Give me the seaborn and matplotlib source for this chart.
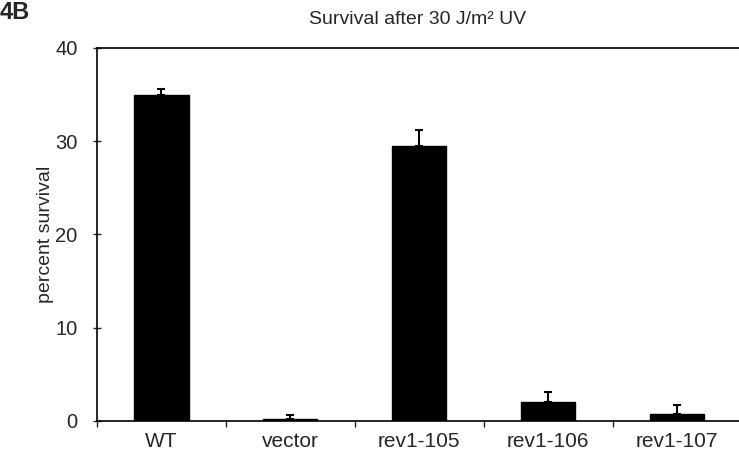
import matplotlib
matplotlib.use("Agg")
import matplotlib.pyplot as plt
import seaborn as sns
import numpy as np
import pandas as pd
from matplotlib.ticker import FixedLocator

categories = ["WT", "vector", "rev1-105", "rev1-106", "rev1-107"]
survival = [35.0, 0.2, 29.5, 2.0, 0.8]
errors = [0.55, 0.4, 1.7, 1.1, 0.9]
yticks = [0, 10, 20, 30, 40]

sns.set_style("ticks")
plt.rcParams['font.family'] = ['Liberation Sans', 'DejaVu Sans']

fig = plt.figure(figsize=(7.39, 4.58), dpi=100)
ax = fig.add_axes([97/739, 1 - 421/458, 1 - 97/739, (421 - 48)/458])

df = pd.DataFrame({"group": categories, "value": survival})
sns.barplot(data=df, x="group", y="value", color="black", width=0.42,
            saturation=1, ax=ax, errorbar=None)
for p in ax.patches:
    p.set_edgecolor("black")

xpos = np.arange(len(categories))
ax.errorbar(xpos, survival, yerr=[np.zeros(len(errors)), errors], fmt="none",
            ecolor="black", elinewidth=1.5, capsize=3, capthick=1.5, zorder=5)

ax.set_xlim(-0.5, 4.48)
ax.set_ylim(0, 40)
ax.set_yticks(yticks)
ax.set_yticklabels([str(t) for t in yticks], fontsize=14.5)
ax.tick_params(axis="y", direction="inout", length=6, width=1, pad=11)
ax.tick_params(axis="x", which="major", length=0, pad=8, labelsize=15)
ax.xaxis.set_minor_locator(FixedLocator(np.arange(-0.5, 4.6, 1.0)))
ax.tick_params(axis="x", which="minor", direction="out", length=4, width=1)

ax.set_xlabel("")
ax.set_ylabel("percent survival", fontsize=14, labelpad=1)

for side in ["left", "bottom", "top"]:
    ax.spines[side].set_visible(True)
    ax.spines[side].set_linewidth(1.2)
    ax.spines[side].set_color("black")
ax.spines["right"].set_visible(False)

fig.text(418/739, 1 - 20/458, "Survival after 30 J/m² UV", ha="center",
         va="center", fontsize=14)
fig.text(0.0, 1 - 1/458, "4B", ha="left", va="top", fontsize=17,
         fontweight="bold")

fig.savefig("out.png", dpi=100)
